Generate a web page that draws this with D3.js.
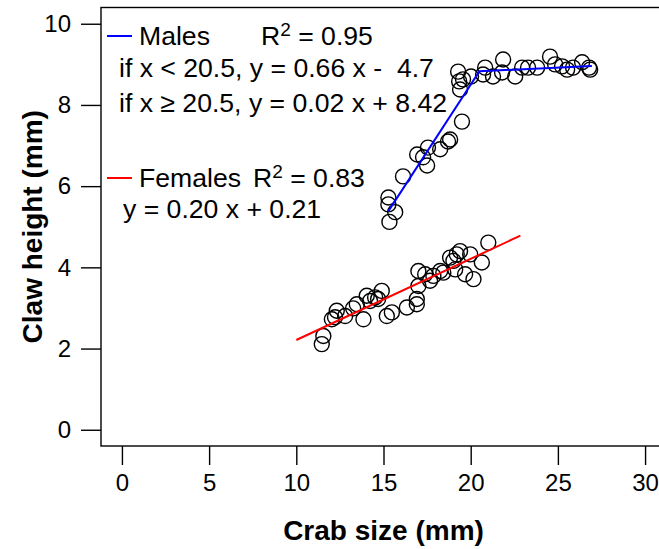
<!DOCTYPE html>
<html>
<head>
<meta charset="utf-8">
<script src="https://cdn.jsdelivr.net/npm/d3@7"></script>
<style>
  html, body { margin: 0; padding: 0; background: #fff; }
  svg { display: block; font-family: "Liberation Sans", Arial, sans-serif; }
  text { white-space: pre; }
</style>
</head>
<body>
<svg id="chart" width="659" height="549"></svg>
<script>
// ---- Data ----
const maleX = [15.34, 15.28, 15.28, 15.67, 16.12, 16.93, 17.27, 17.50, 17.55, 18.25, 18.70, 18.82, 19.50,
               19.28, 19.34, 19.56, 19.39, 20.02, 20.83, 20.71, 21.28, 21.86, 21.80, 22.55, 22.95, 23.29,
               23.81, 24.55, 24.84, 25.24, 25.53, 25.87, 26.39, 26.85, 26.79];
const maleY = [5.12, 5.55, 5.72, 5.36, 6.24, 6.78, 6.71, 6.51, 6.95, 6.91, 7.10, 7.15, 7.59,
               8.82, 8.58, 8.63, 8.38, 8.70, 8.92, 8.75, 8.70, 9.12, 8.80, 8.70, 8.92, 8.92,
               8.92, 9.19, 9.00, 8.95, 8.87, 8.92, 9.05, 8.87, 8.92];
const femaleX = [11.46, 11.55, 12.04, 12.32, 12.22, 12.80, 13.47, 13.85, 14.04, 14.23, 14.52, 14.90,
                 14.69, 15.19, 15.48, 16.34, 16.91, 16.91, 17.00, 17.00, 17.39, 17.67, 17.86, 18.25,
                 18.43, 18.82, 19.01, 19.20, 19.39, 19.11, 19.97, 19.68, 20.16, 20.64, 21.01, 13.26];
const femaleY = [2.11, 2.31, 2.72, 2.93, 2.77, 2.80, 3.09, 2.72, 3.30, 3.17, 3.26, 3.42,
                 3.22, 2.80, 2.89, 3.01, 3.09, 3.22, 3.54, 3.91, 3.83, 3.67, 3.79, 3.91,
                 3.87, 4.24, 4.16, 4.32, 4.40, 3.95, 4.32, 3.83, 3.71, 4.12, 4.61, 2.99];

// fitted lines (coefficients from the legend) and their x extents
const maleBreak = 20.5;
const maleLow = { slope: 0.66, intercept: -4.7 };
const maleHigh = { slope: 0.02, intercept: 8.42 };
const maleFitX = [15.28, 20.5, 26.95];
const femaleFit = { slope: 0.20, intercept: 0.21 };
const femaleFitX = [10.0, 22.85];

const xTicks = [0, 5, 10, 15, 20, 25, 30];
const yTicks = [0, 2, 4, 6, 8, 10];

// ---- Drawing ----
const svg = d3.select("#chart");
const x = d3.scaleLinear().domain([-1.2, 31.2]).range([101, 666]);
const y = d3.scaleLinear().domain([-0.4, 10.4]).range([446, 7.5]);

// box
svg.append("rect")
  .attr("x", x(-1.2)).attr("y", y(10.4))
  .attr("width", x(31.2) - x(-1.2)).attr("height", y(-0.4) - y(10.4))
  .attr("fill", "none").attr("stroke", "#000").attr("stroke-width", 1.4);

// axes
const yAxis = svg.append("g")
  .attr("transform", `translate(${x(-1.2)},0)`)
  .call(d3.axisLeft(y).tickValues(yTicks).tickSize(20).tickPadding(10));
const xAxis = svg.append("g")
  .attr("transform", `translate(0,${y(-0.4)})`)
  .call(d3.axisBottom(x).tickValues(xTicks).tickSize(19).tickPadding(9));
[xAxis, yAxis].forEach(g => {
  g.select(".domain").remove();
  g.selectAll(".tick line").attr("stroke", "#000").attr("stroke-width", 1.4);
  g.selectAll(".tick text").attr("fill", "#000")
    .style("font-family", "'Liberation Sans', Arial, sans-serif").style("font-size", "24px");
});

// axis titles
svg.append("text")
  .attr("x", (x(-1.2) + x(31.2)) / 2).attr("y", 540)
  .attr("text-anchor", "middle")
  .style("font-size", "28px").style("font-weight", "bold")
  .text("Crab size (mm)");
svg.append("text")
  .attr("transform", `translate(42,${(y(-0.4) + y(10.4)) / 2}) rotate(-90)`)
  .attr("text-anchor", "middle")
  .style("font-size", "28px").style("font-weight", "bold")
  .text("Claw height (mm)");

// points
const pts = (xs, ys) => xs.map((v, i) => [v, ys[i]]);
svg.append("g").selectAll("circle")
  .data(pts(maleX, maleY).concat(pts(femaleX, femaleY)))
  .join("circle")
  .attr("cx", d => x(d[0])).attr("cy", d => y(d[1]))
  .attr("r", 7.5)
  .attr("fill", "none").attr("stroke", "#000").attr("stroke-width", 1.4);

// fit lines
const line = d3.line().x(d => x(d[0])).y(d => y(d[1]));
const maleLine = maleFitX.map(v => [v, v < maleBreak ? maleLow.slope * v + maleLow.intercept
                                                  : maleHigh.slope * v + maleHigh.intercept]);
maleLine[1][1] = maleLow.slope * maleBreak + maleLow.intercept;
svg.append("path").attr("d", line(maleLine))
  .attr("fill", "none").attr("stroke", "#0000FF").attr("stroke-width", 2);
const femaleLine = femaleFitX.map(v => [v, femaleFit.slope * v + femaleFit.intercept]);
svg.append("path").attr("d", line(femaleLine))
  .attr("fill", "none").attr("stroke", "#FF0000").attr("stroke-width", 2);

// legend
const fs = "26.6px";
function legendEntry(color, ly, label, labelX, rX, r2, lines, linesX, linesY) {
  svg.append("line").attr("x1", 107).attr("x2", 132).attr("y1", ly).attr("y2", ly)
    .attr("stroke", color).attr("stroke-width", 2);
  svg.append("text").attr("x", labelX).attr("y", ly + 9).style("font-size", fs).text(label);
  const t = svg.append("text").attr("x", rX).attr("y", ly + 9).style("font-size", fs);
  t.append("tspan").text("R");
  t.append("tspan").attr("dy", -9).style("font-size", "19px").text("2");
  t.append("tspan").attr("dy", 9).text(" = " + r2);
  lines.forEach((s, i) => {
    svg.append("text").attr("x", linesX).attr("y", linesY[i]).style("font-size", fs).text(s);
  });
}
legendEntry("#0000FF", 36, "Males", 139, 261, "0.95",
  ["if x < 20.5, y = 0.66 x -  4.7", "if x \u2265 20.5, y = 0.02 x + 8.42"], 119, [77, 112]);
legendEntry("#FF0000", 178, "Females", 139, 253, "0.83",
  ["y = 0.20 x + 0.21"], 123, [218]);
</script>
</body>
</html>
